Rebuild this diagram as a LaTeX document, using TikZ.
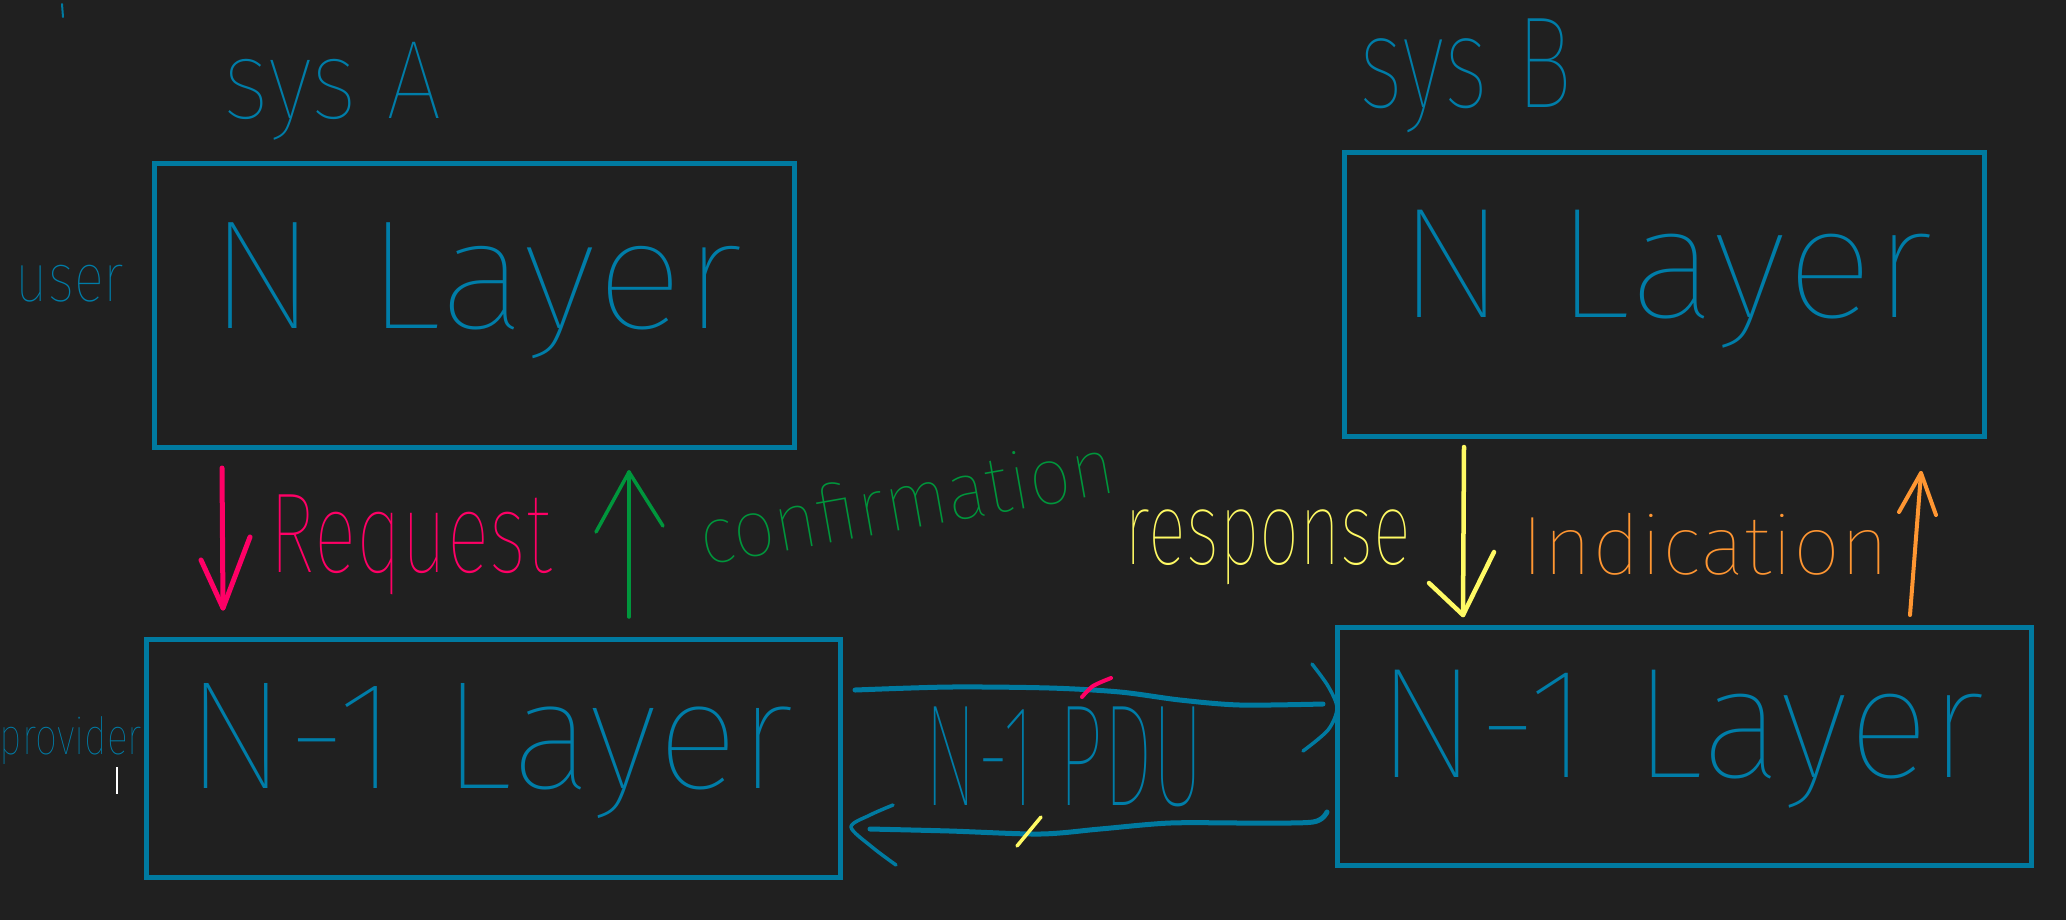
\documentclass[tikz,border=0pt]{standalone}
\usepackage{fontspec}
\usepackage{graphicx}
\newfontfamily\hand{Fira Sans Thin}
\definecolor{bg}{RGB}{32,32,32}
\definecolor{boxblue}{RGB}{0,122,160}
\definecolor{txtblue}{RGB}{0,125,168}
\definecolor{pinkred}{RGB}{255,0,102}
\definecolor{hgreen}{RGB}{0,150,60}
\definecolor{hyellow}{RGB}{255,250,100}
\definecolor{horange}{RGB}{255,150,50}
\newcommand\hw[3]{\resizebox*{#1}{#2}{\hand #3}}
\begin{document}
\begin{tikzpicture}[x=0.01cm,y=-0.01cm,
  layerbox/.style={draw=boxblue,line width=0.05cm,inner sep=0pt},
  lbl/.style={inner sep=0pt,outer sep=0pt},
  pen/.style={line width=0.045cm,line cap=round,line join=round},
  bluepen/.style={pen,draw=boxblue,line width=0.05cm}]
\fill[bg] (0,0) rectangle (2066,920);
\useasboundingbox (0,0) rectangle (2066,920);

% boxes
\node[layerbox,minimum width=6.39cm,minimum height=2.83cm] (Atop) at (474.5,305.5) {};
\node[layerbox,minimum width=6.39cm,minimum height=2.83cm] (Btop) at (1664.5,294.5) {};
\node[layerbox,minimum width=6.93cm,minimum height=2.37cm] (Abot) at (493.5,758.5) {};
\node[layerbox,minimum width=6.93cm,minimum height=2.37cm] (Bbot) at (1684.5,746.5) {};

% blue labels
\node[lbl,text=txtblue] (sysA) at (333,91) {\hw{2.18cm}{0.98cm}{sys A}};
\node[lbl,text=txtblue] (sysB) at (1466,76) {\hw{2.12cm}{1.14cm}{sys B}};
\node[lbl,text=txtblue] (user) at (70,283.5) {\hw{1.08cm}{0.37cm}{user}};
\node[lbl,text=txtblue] (prov) at (71,741) {\hw{1.42cm}{0.48cm}{provider}};
\node[lbl,text=txtblue] (tA) at (476,291) {\hw{5.34cm}{1.36cm}{N Layer}};
\node[lbl,text=txtblue] (tB) at (1665.5,279) {\hw{5.35cm}{1.38cm}{N Layer}};
\node[lbl,text=txtblue] (tAb) at (490,750.5) {\hw{6.08cm}{1.35cm}{N-1 Layer}};
\node[lbl,text=txtblue] (tBb) at (1680.5,739) {\hw{6.07cm}{1.38cm}{N-1 Layer}};
\node[lbl,text=txtblue] (pdu) at (1064,757) {\hw{2.79cm}{1.00cm}{N-1 PDU}};

% coloured labels
\node[lbl,text=pinkred] (req) at (411,545) {\hw{2.82cm}{1.00cm}{Request}};
\node[lbl,text=hgreen,rotate=10] (conf) at (906,500) {\hw{4.20cm}{0.60cm}{confirmation}};
\node[lbl,text=hyellow] (resp) at (1268,547) {\hw{2.86cm}{0.75cm}{response}};
\node[lbl,text=horange] (ind) at (1705,544) {\hw{3.67cm}{0.62cm}{Indication}};

% request (down, pink)
\coordinate (rq1) at (222,468);
\coordinate (rq2) at (223,608);
\draw[pen,draw=pinkred,line width=0.05cm] (rq1) -- (rq2);
\draw[pen,draw=pinkred,line width=0.05cm] (rq2) ++(-22,-48) -- (rq2) -- ++(27,-71);

% confirmation (up, green)
\coordinate (cf1) at (629,617);
\coordinate (cf2) at (629,472);
\draw[pen,draw=hgreen,line width=0.035cm] (cf1) -- (cf2);
\draw[pen,draw=hgreen,line width=0.035cm] (cf2) ++(-33,60) -- (cf2) -- ++(34,54);

% response (down, yellow)
\coordinate (rs1) at (1464,447);
\coordinate (rs2) at (1463,615);
\draw[pen,draw=hyellow] (rs1) -- (rs2);
\draw[pen,draw=hyellow] (rs2) ++(-34,-32) -- (rs2) -- ++(31,-63);

% indication (up, orange)
\coordinate (in1) at (1910,615);
\coordinate (in2) at (1921,473);
\draw[pen,draw=horange,line width=0.04cm] (in1) -- (in2);
\draw[pen,draw=horange,line width=0.04cm] (in2) ++(-22,39) -- (in2) -- ++(15,42);

% N-1 PDU arrows
\coordinate (pu1) at (855,690);
\coordinate (pu2) at (1337,708);
\draw[bluepen] plot[smooth] coordinates {(pu1) (950,687) (1050,688) (1120,692) (1180,700) (1240,705) (1323,704)};
\draw[bluepen,line width=0.035cm] plot[smooth] coordinates {(1312,664) (1328,686) (pu2) (1328,730) (1303,751)};

\coordinate (pl1) at (1327,812);
\coordinate (pl2) at (851,827);
\draw[bluepen] plot[smooth] coordinates {(pl1) (1313,822) (1250,823) (1170,823) (1100,829) (1040,834) (950,831) (870,829)};
\draw[bluepen,line width=0.035cm] plot[smooth] coordinates {(893,805) (870,815) (pl2) (872,847) (896,865)};

% small marks
\draw[pen,draw=pinkred,line width=0.04cm] plot[smooth] coordinates {(1082,697) (1093,686) (1111,678)};
\draw[pen,draw=hyellow,line width=0.035cm] (1017,846) -- (1041,817);
\draw[pen,draw=boxblue,line width=0.02cm] (62,4) -- (63,17);
\draw[white,line width=0.012cm] (117,767) -- (117,794);
\end{tikzpicture}
\end{document}
